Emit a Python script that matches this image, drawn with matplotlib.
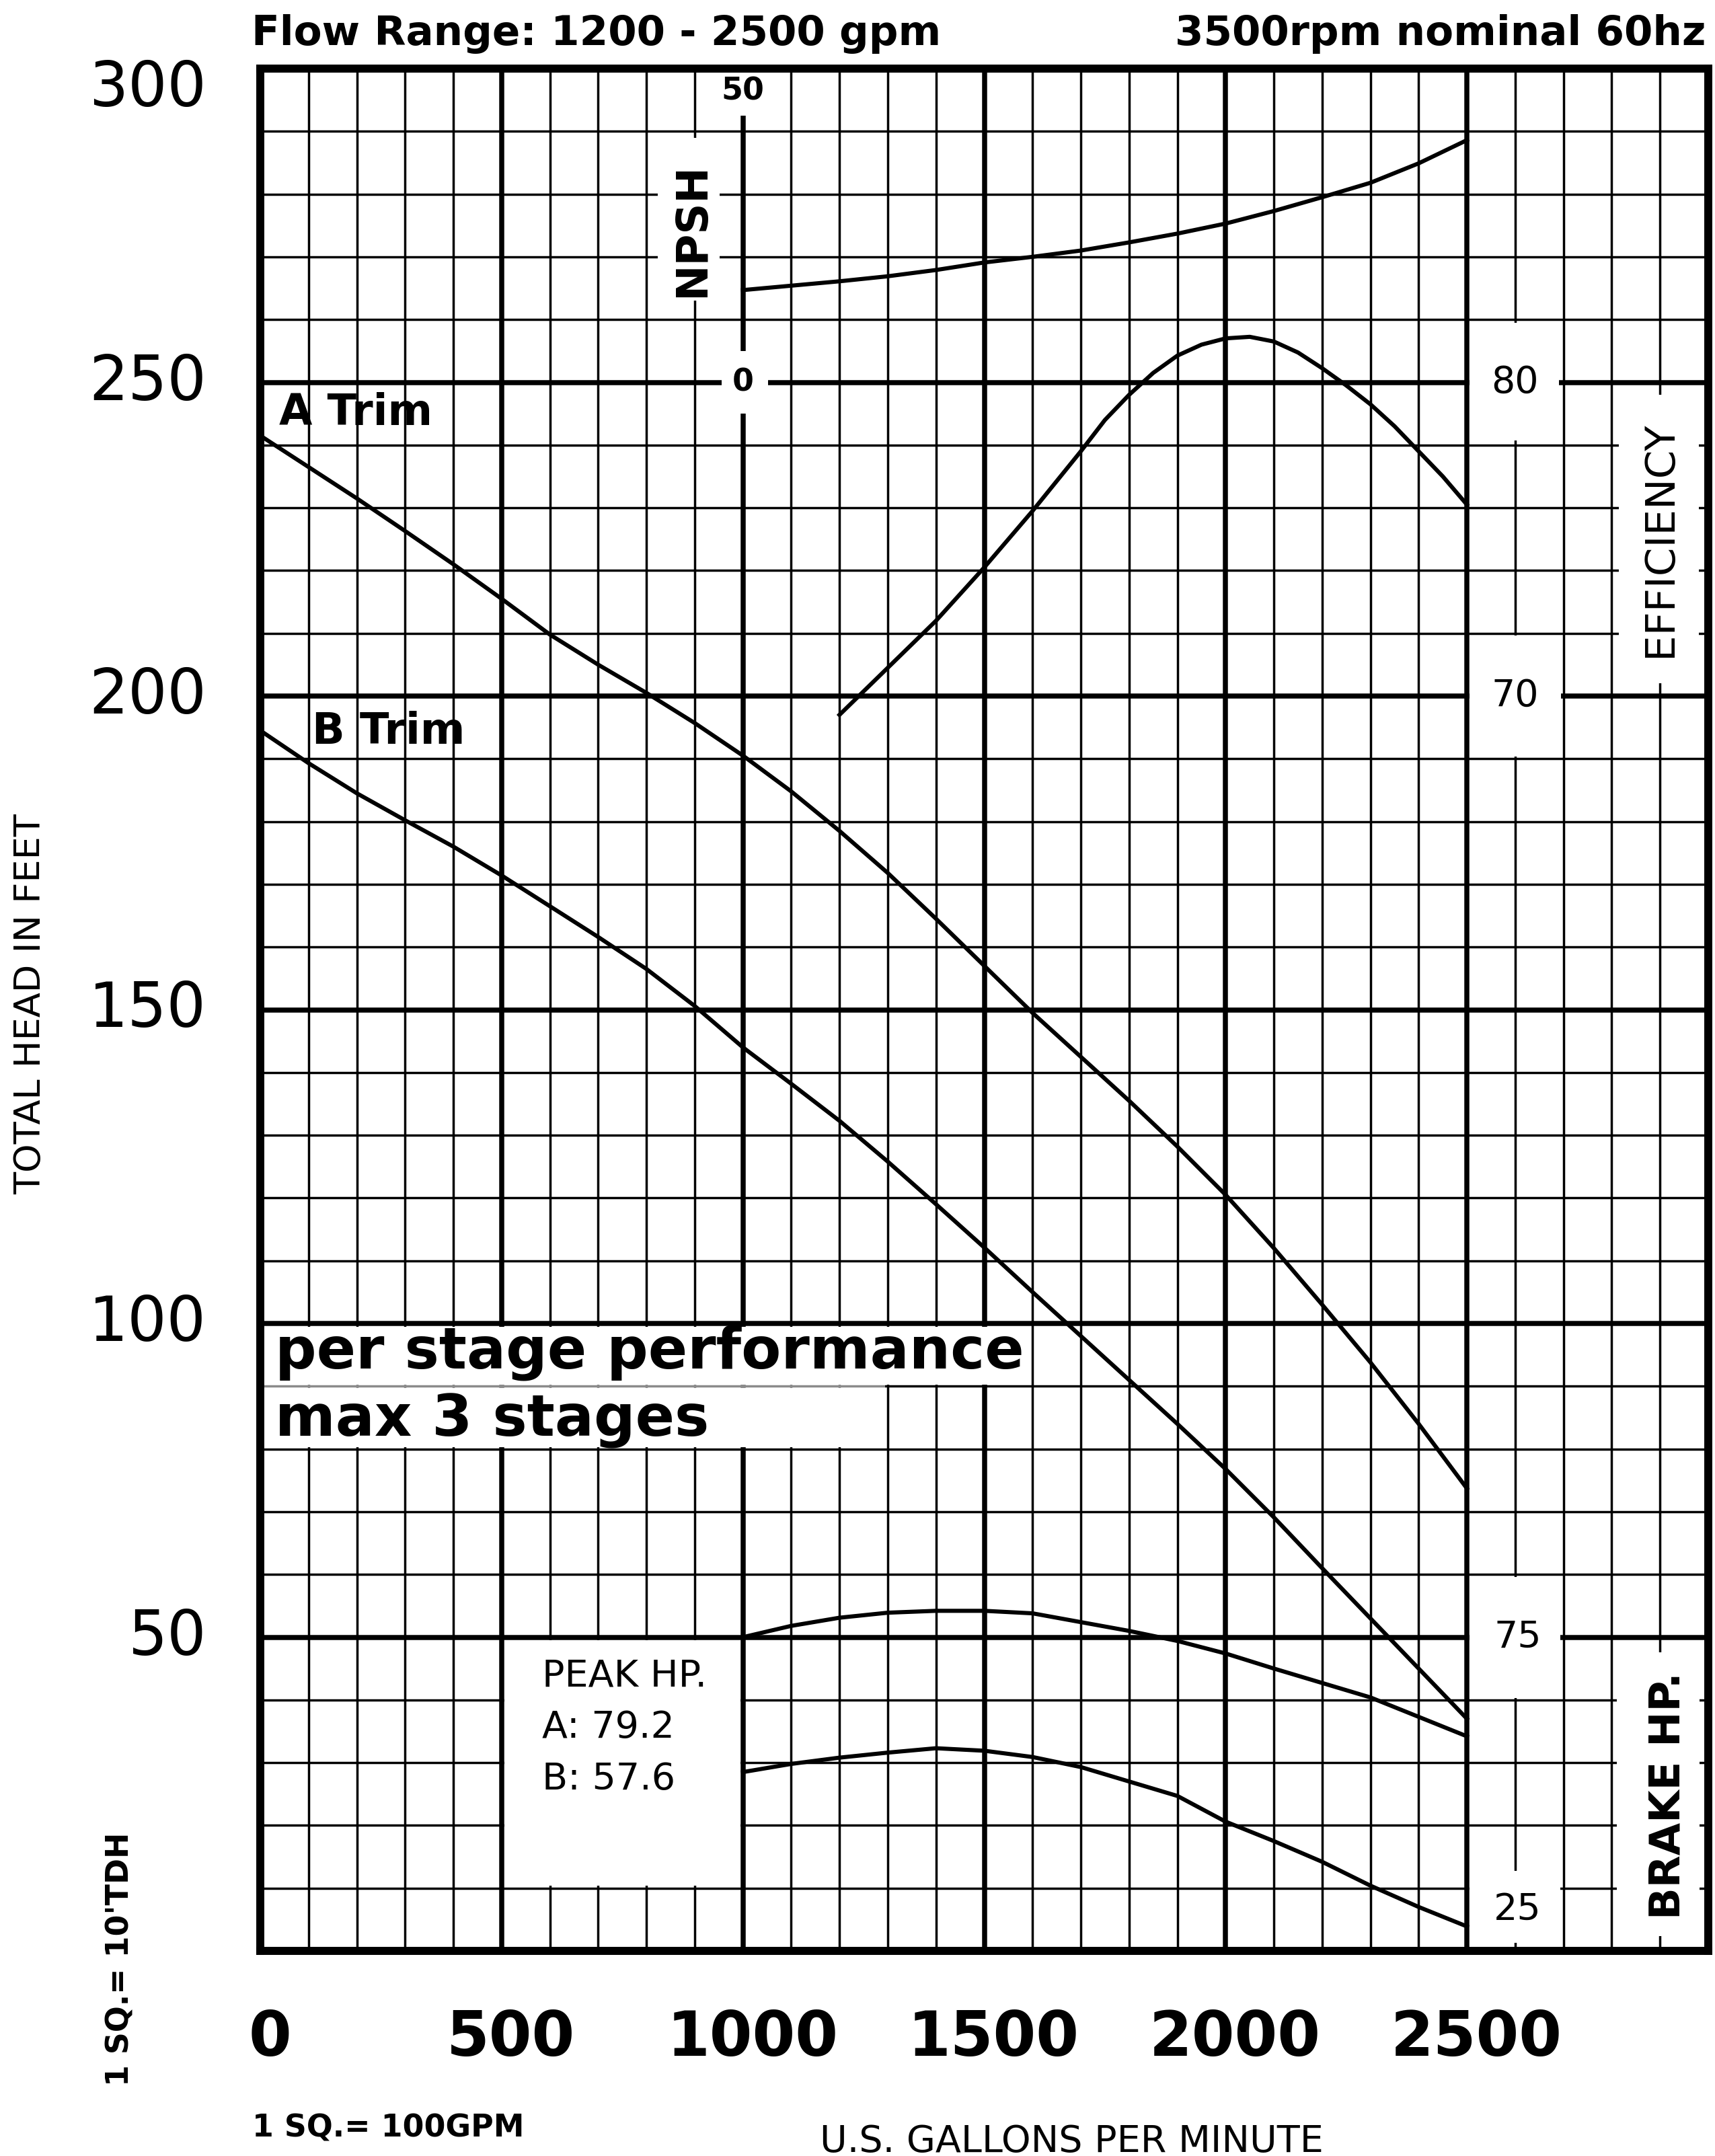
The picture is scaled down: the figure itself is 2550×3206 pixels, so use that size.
import matplotlib
matplotlib.use("Agg")
import matplotlib.pyplot as plt
from matplotlib.patches import Rectangle
from matplotlib.ticker import MultipleLocator

# ---- curve data (flow in US gpm) ----
head_gpm = [0, 100, 200, 300, 400, 500, 600, 700, 800, 900, 1000, 1100, 1200,
            1300, 1400, 1500, 1600, 1700, 1800, 1900, 2000, 2100, 2200, 2300,
            2400, 2500]
head_a_ft = [241.5, 236.5, 231.5, 226.3, 221.0, 215.5, 209.8, 205.0, 200.5,
             195.7, 190.5, 184.8, 178.5, 171.8, 164.5, 157.0, 149.5, 142.5,
             135.5, 128.2, 120.5, 112.0, 103.0, 93.8, 84.0, 73.7]
head_b_ft = [194.5, 189.3, 184.5, 180.2, 176.0, 171.4, 166.5, 161.6, 156.5,
             150.6, 144.0, 138.2, 132.3, 125.8, 119.0, 112.1, 105.0, 98.0,
             91.0, 84.0, 76.8, 69.1, 61.0, 53.0, 45.0, 37.0]

eff_gpm = [1200, 1300, 1400, 1500, 1600, 1700, 1750, 1800, 1850, 1900, 1950,
           2000, 2050, 2100, 2150, 2200, 2250, 2300, 2350, 2400, 2450, 2500]
eff_pct = [69.4, 70.9, 72.4, 74.1, 75.9, 77.8, 78.8, 79.6, 80.3, 80.85, 81.2,
           81.4, 81.45, 81.3, 80.95, 80.45, 79.9, 79.3, 78.6, 77.8, 77.0, 76.1]

npsh_gpm = [1000, 1100, 1200, 1300, 1400, 1500, 1600, 1700, 1800, 1900, 2000,
            2100, 2200, 2300, 2400, 2500]
npsh_ft = [14.7, 15.4, 16.1, 16.9, 17.9, 19.1, 20.0, 21.0, 22.3, 23.7, 25.3,
           27.3, 29.5, 31.8, 34.9, 38.6]

bhp_gpm = [1000, 1100, 1200, 1300, 1400, 1500, 1600, 1700, 1800, 1900, 2000,
           2100, 2200, 2300, 2400, 2500]
bhp_a = [75.0, 76.8, 78.1, 78.9, 79.2, 79.2, 78.8, 77.4, 76.0, 74.4, 72.4,
         70.0, 67.7, 65.4, 62.3, 59.2]
bhp_b = [53.5, 54.8, 55.8, 56.6, 57.3, 56.9, 55.9, 54.3, 52.0, 49.7, 45.6,
         42.5, 39.2, 35.4, 32.0, 28.9]

head_ticks = [300, 250, 200, 150, 100, 50]
flow_ticks = [0, 500, 1000, 1500, 2000, 2500]
eff_ticks = [80, 70]
npsh_ticks = [50, 0]
bhp_ticks = [75, 25]

W, H = 2550, 3206
LW_CURVE = 4.4

fig = plt.figure(figsize=(W / 100, H / 100), dpi=100)
fig.patch.set_facecolor("white")

# main axes: total head vs flow, 1 sq = 100 gpm x 10 ft
ax = fig.add_axes([387 / W, 1 - 2901 / H, (2540 - 387) / W, (2901 - 102) / H])
ax.set_xlim(0, 3000)
ax.set_ylim(0, 300)
ax.xaxis.set_major_locator(MultipleLocator(500))
ax.xaxis.set_minor_locator(MultipleLocator(100))
ax.yaxis.set_major_locator(MultipleLocator(50))
ax.yaxis.set_minor_locator(MultipleLocator(10))
ax.set_axisbelow(True)
ax.grid(which="major", color="black", linewidth=5.4)
ax.grid(which="minor", color="black", linewidth=2.5)
ax.tick_params(which="both", length=0, labelbottom=False, labelleft=False)
for sp in ax.spines.values():
    sp.set_linewidth(8.6)

# white patches that blank the grid behind labels (gpm, ft)
masks = [
    (823, 263, 128, 26),      # NPSH title
    (958, 292.5, 84, 7.3),    # npsh 50
    (956, 245, 96, 10),       # npsh 0
    (2506, 240.7, 184, 18.8),  # eff 80
    (2506, 190.4, 189, 19.2),  # eff 70
    (2815, 202, 165, 46),     # EFFICIENCY
    (2506, 40.3, 188, 19.3),  # bhp 75
    (2506, 1.3, 188, 11.5),   # bhp 25
    (2810, 2.4, 172, 45.2),   # BRAKE HP.
    (506, 10.4, 488.5, 39.1),  # peak hp box
    (9, 90.3, 1586, 9.2),     # per stage performance
    (9, 80.3, 1286, 9.4),     # max 3 stages
]
for x0, y0, w, h in masks:
    ax.add_patch(Rectangle((x0, y0), w, h, facecolor="white", edgecolor="none", zorder=1))
ax.add_patch(Rectangle((9, 89.6), 1286, 0.8, facecolor="white", edgecolor="none",
                       alpha=0.55, zorder=1))

# head curves
ax.plot(head_gpm, head_a_ft, color="black", lw=LW_CURVE, zorder=3)
ax.plot(head_gpm, head_b_ft, color="black", lw=LW_CURVE, zorder=3)


def overlay(lo, hi):
    t = ax.twinx()
    t.set_ylim(lo, hi)
    t.set_axis_off()
    return t


eff_ax = overlay(30, 90)      # 80 % at 250 ft, 70 % at 200 ft
npsh_ax = overlay(-250, 50)   # 0 at 250 ft, 50 at 300 ft
bhp_ax = overlay(25, 325)     # 25 hp at 0 ft, 75 hp at 50 ft

eff_ax.plot(eff_gpm, eff_pct, color="black", lw=LW_CURVE)
npsh_ax.plot(npsh_gpm, npsh_ft, color="black", lw=LW_CURVE)
bhp_ax.plot(bhp_gpm, bhp_a, color="black", lw=LW_CURVE)
bhp_ax.plot(bhp_gpm, bhp_b, color="black", lw=LW_CURVE)

# left head labels
for v in head_ticks:
    dy = -30 if v == 300 else 0
    ax.annotate(str(v), xy=(0, v), xycoords=("axes fraction", "data"),
                xytext=(-80, dy), textcoords="offset pixels",
                ha="right", va="center", fontsize=66)

# bottom flow labels
for v in flow_ticks:
    ax.annotate(str(v), xy=(v, 0), xycoords=("data", "axes fraction"),
                xytext=(14, -156), textcoords="offset pixels",
                ha="center", va="baseline", fontsize=66, fontweight="bold")

# secondary scales written inside the grid
for v in eff_ticks:
    eff_ax.text(2600, v, str(v), ha="center", va="center", fontsize=40)
for v in bhp_ticks:
    dy = 61 if v == 25 else 0
    bhp_ax.annotate(str(v), xy=(2605, v), xytext=(0, dy), textcoords="offset pixels",
                    ha="center", va="center", fontsize=40)
for v in npsh_ticks:
    dy = -34 if v == 50 else 0
    npsh_ax.annotate(str(v), xy=(1000, v), xytext=(0, dy), textcoords="offset pixels",
                     ha="center", va="center", fontsize=33, fontweight="bold")

ax.text(895, 274.3, "NPSH", rotation=90, ha="center", va="center",
        fontsize=46, fontweight="bold", zorder=4)
ax.text(2901, 225, "EFFICIENCY", rotation=90, ha="center", va="center",
        fontsize=44, zorder=4)
ax.text(2917, 24.7, "BRAKE HP.", rotation=90, ha="center", va="center",
        fontsize=45, fontweight="bold", zorder=4)

ax.text(39, 243.2, "A Trim", ha="left", va="baseline", fontsize=46,
        fontweight="bold", zorder=4)
ax.text(107, 192.4, "B Trim", ha="left", va="baseline", fontsize=46,
        fontweight="bold", zorder=4)

ax.text(30, 92.9, "per stage performance", ha="left", va="baseline",
        fontsize=62, fontweight="bold", zorder=4)
ax.text(30, 82.0, "max 3 stages", ha="left", va="baseline",
        fontsize=62, fontweight="bold", zorder=4)

ax.text(584, 42.2, "PEAK HP.", ha="left", va="baseline", fontsize=40, zorder=4)
ax.text(584, 34.0, "A: 79.2", ha="left", va="baseline", fontsize=40, zorder=4)
ax.text(584, 25.7, "B: 57.6", ha="left", va="baseline", fontsize=40, zorder=4)

# header and outer labels
fig.text(374 / W, 1 - 67 / H, "Flow Range: 1200 - 2500 gpm", ha="left",
         va="baseline", fontsize=44, fontweight="bold")
fig.text(2536 / W, 1 - 67 / H, "3500rpm nominal 60hz", ha="right",
         va="baseline", fontsize=44, fontweight="bold")
fig.text(45 / W, 1 - 1493 / H, "TOTAL HEAD IN FEET", rotation=90,
         ha="center", va="center", fontsize=39)
fig.text(179 / W, 1 - 2913 / H, "1 SQ.= 10'TDH", rotation=90,
         ha="center", va="center", fontsize=33, fontweight="bold")
fig.text(375 / W, 1 - 3178 / H, "1 SQ.= 100GPM", ha="left",
         va="baseline", fontsize=33, fontweight="bold")
fig.text(1593 / W, 1 - 3200 / H, "U.S. GALLONS PER MINUTE", ha="center",
         va="baseline", fontsize=40)

fig.savefig("out.png", dpi=100, facecolor="white")
